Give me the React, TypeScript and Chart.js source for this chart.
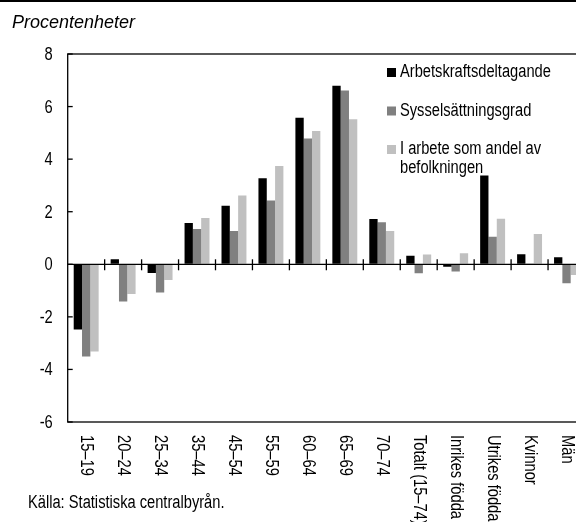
import React, { useEffect, useRef } from "react";
import { Chart, registerables } from "chart.js";

Chart.register(...registerables);

const categories = [
  "15–19",
  "20–24",
  "25–34",
  "35–44",
  "45–54",
  "55–59",
  "60–64",
  "65–69",
  "70–74",
  "Totalt (15–74)",
  "Inrikes födda",
  "Utrikes födda",
  "Kvinnor",
  "Män",
];

const arbetskraftsdeltagande = [-2.48, 0.19, -0.33, 1.57, 2.23, 3.27, 5.57, 6.79, 1.72, 0.32, -0.09, 3.38, 0.38, 0.27];
const sysselsattningsgrad = [-3.51, -1.42, -1.07, 1.34, 1.27, 2.43, 4.79, 6.61, 1.6, -0.34, -0.27, 1.05, 0.03, -0.72];
const iArbeteAndel = [-3.32, -1.13, -0.6, 1.76, 2.62, 3.74, 5.07, 5.52, 1.27, 0.37, 0.42, 1.73, 1.15, -0.41];

const seriesNames = ["Arbetskraftsdeltagande", "Sysselsättningsgrad", "I arbete som andel av befolkningen"];
const legendLines = [["Arbetskraftsdeltagande"], ["Sysselsättningsgrad"], ["I arbete som andel av", "befolkningen"]];
const seriesColors = ["#000000", "#808080", "#c0c0c0"];

const yTicks = [8, 6, 4, 2, 0, -2, -4, -6];
const unitLabel = "Procentenheter";
const sourceNote = "Källa: Statistiska centralbyrån.";

const REGULAR = '"Liberation Sans", Arial, sans-serif';
const NARROW_SCALE = 0.815;

function fillNarrow(ctx: CanvasRenderingContext2D, text: string, x: number, y: number, rot = 0) {
  ctx.save();
  ctx.translate(x, y);
  if (rot) ctx.rotate(rot);
  ctx.scale(NARROW_SCALE, 1);
  ctx.fillText(text, 0, 0);
  ctx.restore();
}

const decorPlugin = {
  id: "decor",
  afterDatasetsDraw(chart: any) {
    const { ctx, chartArea: a, scales } = chart;
    const x = scales.x;
    const y = scales.y;
    const line = (x1: number, y1: number, x2: number, y2: number) => {
      ctx.beginPath();
      ctx.moveTo(x1, y1);
      ctx.lineTo(x2, y2);
      ctx.stroke();
    };
    ctx.save();
    ctx.strokeStyle = "#000";
    ctx.lineWidth = 1.3;
    ctx.strokeRect(a.left, a.top, a.right - a.left, a.bottom - a.top);
    const y0 = y.getPixelForValue(0);
    line(a.left, y0, a.right, y0);
    for (let i = 1; i < categories.length; i++) {
      const px = (x.getPixelForValue(i - 1) + x.getPixelForValue(i)) / 2;
      line(px, y0 - 5, px, y0 + 6);
    }
    yTicks.forEach((v) => {
      const py = y.getPixelForValue(v);
      line(a.left, py, a.left + 5, py);
    });
    ctx.restore();
  },
  afterDraw(chart: any) {
    const { ctx, chartArea: a, scales } = chart;
    const x = scales.x;
    const y = scales.y;
    ctx.save();
    // top rule
    ctx.fillStyle = "#000";
    ctx.fillRect(0, 0, chart.width, 2);

    // unit label
    ctx.font = `italic 18px ${REGULAR}`;
    ctx.textAlign = "left";
    ctx.textBaseline = "alphabetic";
    ctx.fillText(unitLabel, 12, 28);

    ctx.font = `18px ${REGULAR}`;

    // y tick labels
    ctx.textAlign = "right";
    ctx.textBaseline = "middle";
    yTicks.forEach((v) => {
      fillNarrow(ctx, String(v), a.left - 15, y.getPixelForValue(v) + 1);
    });

    // x labels, rotated clockwise
    ctx.textAlign = "left";
    ctx.textBaseline = "middle";
    categories.forEach((c, i) => {
      const cx = x.getPixelForValue(i);
      fillNarrow(ctx, c, cx, a.bottom + 13, Math.PI / 2);
    });

    // legend
    const lx = 387;
    const tops = [72.5, 111, 149.5];
    legendLines.forEach((lines, i) => {
      ctx.fillStyle = chart.data.datasets[i].backgroundColor;
      ctx.fillRect(lx, tops[i] - 4.5, 9, 9);
      ctx.fillStyle = "#000";
      ctx.textAlign = "left";
      ctx.textBaseline = "middle";
      lines.forEach((t, j) => {
        fillNarrow(ctx, t, lx + 13, tops[i] + j * 19);
      });
    });

    // source
    ctx.textBaseline = "middle";
    fillNarrow(ctx, sourceNote, 28, 503);
    ctx.restore();
  },
};

export default function App() {
  const canvasRef = useRef<HTMLCanvasElement | null>(null);

  useEffect(() => {
    if (!canvasRef.current) return;
    const datasetsData = [arbetskraftsdeltagande, sysselsattningsgrad, iArbeteAndel];
    const chart = new Chart(canvasRef.current, {
      type: "bar",
      data: {
        labels: categories,
        datasets: datasetsData.map((d, i) => ({
          label: seriesNames[i],
          data: d,
          backgroundColor: seriesColors[i],
          borderWidth: 0,
          barPercentage: 1,
          categoryPercentage: 0.675,
        })),
      },
      options: {
        animation: false,
        responsive: false,
        devicePixelRatio: 1,
        layout: { padding: { left: 0, right: 15, top: 54, bottom: 100 } },
        plugins: {
          legend: { display: false },
          tooltip: { enabled: false },
          title: { display: false },
        },
        scales: {
          x: {
            type: "category",
            display: false,
          },
          y: {
            min: -6,
            max: 8,
            afterBuildTicks: (s: any) => {
              s.ticks = yTicks.map((v) => ({ value: v }));
            },
            afterFit: (s: any) => {
              s.width = 67.7;
            },
            grid: { drawOnChartArea: false, drawTicks: false },
            border: { display: false },
            ticks: { display: false },
          },
        },
      },
      plugins: [decorPlugin],
    });
    return () => chart.destroy();
  }, []);

  return (
    <div
      style={{
        position: "fixed",
        left: 0,
        top: 0,
        width: 576,
        height: 522,
        overflow: "hidden",
        background: "#fff",
      }}
    >
      <canvas ref={canvasRef} width={600} height={522} style={{ display: "block" }} />
    </div>
  );
}
